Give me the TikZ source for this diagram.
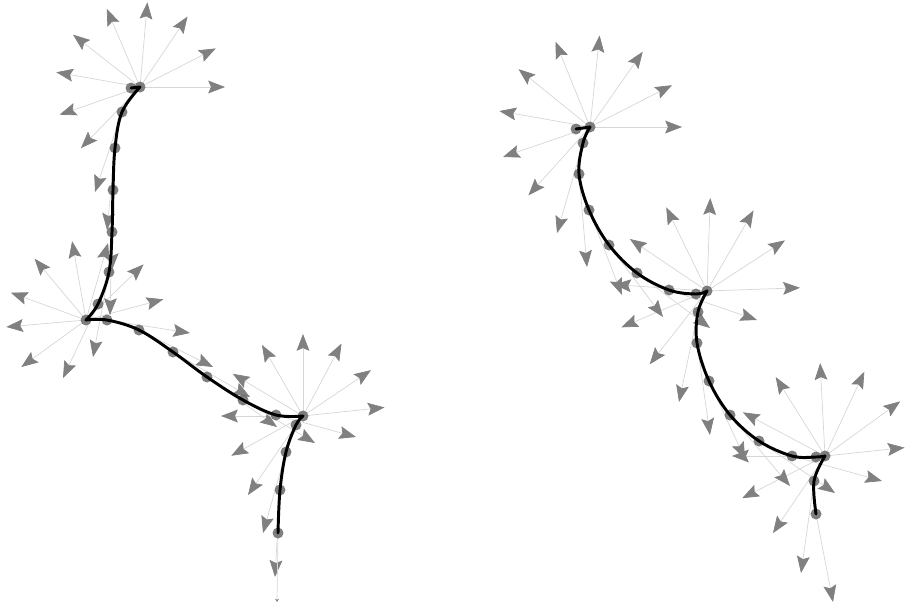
\documentclass[tikz,border=0pt]{standalone}
\usepackage{tikz}
\usepackage{xcolor}
\usetikzlibrary{arrows.meta}
\definecolor{fanline}{RGB}{214,214,214}
\definecolor{fanhead}{RGB}{128,128,128}
\definecolor{dotgray}{RGB}{105,105,105}
\tikzset{
  fan/.style={draw=fanline,line width=0.5pt,
    -{Stealth[length=0.42cm,width=0.32cm,inset=0.07cm,color=fanhead]}},
  stub/.style={draw=fanline,line width=0.5pt,
    -{Stealth[length=0.08cm,width=0.1cm,color=fanhead]}},
  waypt/.style={fill=dotgray,opacity=0.85},
  track/.style={line width=2.1pt,line cap=round,line join=round}
}
\begin{document}
\begin{tikzpicture}[x=0.025cm,y=-0.025cm]
    \useasboundingbox (0,0) rectangle (908,607);
    % waypoints, left track
    \foreach \n/\x/\y in {a0/131/88, A/140/87, a1/122/112, a2/115/148,
      a3/113/190, a4/112/232, a5/109/272, a6/98/304, B/86/320,
      b1/107/320, b2/139/330, b3/173/352, b4/207/377, b5/243/400,
      b6/276/415, C/303/416, c1/296/425, c2/286/452, c3/280/490, c4/278/533}
      \coordinate (\n) at (\x,\y);
    % waypoints, right track
    \foreach \n/\x/\y in {d0/576/129, D/590/127, d1/583/143, d2/579/174,
      d3/589/210, d4/609/245, d5/637/273, d6/669/290, d7/696/294, E/707/291,
      e1/698/312, e2/697/343, e3/709/381, e4/730/415, e5/759/441,
      e6/792/456, e7/816/457, F/825/456, f1/814/481, f2/816/514}
      \coordinate (\n) at (\x,\y);
    % fans at the hubs
    \foreach \h/\r/\angs in {A/85/{0,27,56,85,113,142,170,199,226},
      B/80/{15,44,74,100,130,160,185,216},
      C/82/{6,34,62,90,120,149,180,209},
      D/92/{0,27,55,84,112,141,170,199,228},
      E/93/{2,33,60,88,116,146,176,203,232},
      F/93/{36,65,93,122,152,180,207,236}}{
      \foreach \a in \angs
        \draw[fan] (\h) -- ++({-\a}:\r);
    }
    \draw[fan] (F) -- ++(-6:80);
    % one arrow per waypoint
    \foreach \p/\dx/\dy in {a1/-27/80, a2/-8/82, a3/-1/80, a4/-2/83,
      a5/-16/85, a6/-35/74, b1/83/13, b2/74/37, b3/77/45, b4/70/50,
      b5/72/43, b6/80/22, c1/-48/70, c2/-23/81, c3/-5/87,
      d1/-26/90, d2/8/93, d3/33/85, d4/54/72, d5/73/55, d6/88/30,
      e1/-19/90, e2/13/92, e3/36/78, e4/60/71, e5/76/52, e6/90/25,
      f1/-13/92, f2/17/88}
      \draw[fan] (\p) -- ++(\dx,\dy);
    \draw[stub] (c4) -- ++(-1,69);
    % dots
    \foreach \p in {a0,A,a1,a2,a3,a4,a5,a6,B,b1,b2,b3,b4,b5,b6,C,c1,c2,c3,c4,
      d0,D,d1,d2,d3,d4,d5,d6,d7,E,e1,e2,e3,e4,e5,e6,e7,F,f1,f2}
      \fill[waypt] (\p) circle (5.5);
    % tracks
    \draw[track] (a0) -- (A);
    \draw[track] plot[smooth,tension=0.6] coordinates {(A) (a1) (a2) (a3) (a4) (a5) (a6) (B)};
    \draw[track] plot[smooth,tension=0.6] coordinates {(B) (b1) (b2) (b3) (b4) (b5) (b6) (C)};
    \draw[track] plot[smooth,tension=0.6] coordinates {(C) (c1) (c2) (c3) (c4)};
    \draw[track] (d0) -- (D);
    \draw[track] plot[smooth,tension=0.6] coordinates {(D) (d1) (d2) (d3) (d4) (d5) (d6) (d7) (E)};
    \draw[track] plot[smooth,tension=0.6] coordinates {(E) (e1) (e2) (e3) (e4) (e5) (e6) (e7) (F)};
    \draw[track] plot[smooth,tension=0.6] coordinates {(F) (f1) (f2)};
\end{tikzpicture}
\end{document}
